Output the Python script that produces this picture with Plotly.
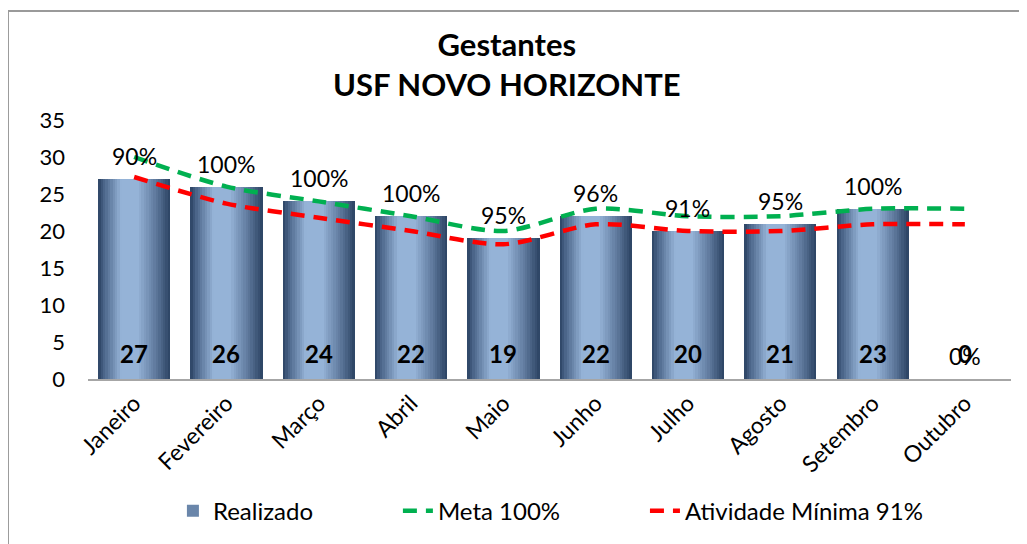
import plotly.graph_objects as go

meses = ["Janeiro", "Fevereiro", "Março", "Abril", "Maio", "Junho", "Julho", "Agosto", "Setembro", "Outubro"]
realizado = [27, 26, 24, 22, 19, 22, 20, 21, 23, 0]
meta = [30, 26, 24, 22, 20, 23, 22, 22, 23, 23]
minima = [27.3, 23.7, 21.8, 20.0, 18.2, 20.9, 20.0, 20.0, 20.9, 20.9]
percentuais = ["90%", "100%", "100%", "100%", "95%", "96%", "91%", "95%", "100%", "0%"]
series_nomes = ["Realizado", "Meta 100%", "Atividade Mínima 91%"]

FONT = "Lato"
DARK = (0x2B, 0x42, 0x62)
LIGHT = (0x95, 0xB3, 0xD7)
STOPS = [(0.0, DARK), (0.08, (0x4A, 0x64, 0x88)), (0.32, LIGHT), (0.55, LIGHT), (0.8, (0x5E, 0x78, 0x9C)), (1.0, DARK)]
PAD = "\u00a0" * 13  # trailing spacing between legend entries


def grad(t):
    for (a, ca), (b, cb) in zip(STOPS, STOPS[1:]):
        if a <= t <= b:
            f = (t - a) / (b - a) if b > a else 0
            c = [round(ca[i] + (cb[i] - ca[i]) * f) for i in range(3)]
            return "rgb(%d,%d,%d)" % tuple(c)
    return "rgb(%d,%d,%d)" % DARK


W = 0.78
N = 30
fig = go.Figure()
for i in range(N):
    t = (i + 0.5) / N
    fig.add_trace(go.Bar(
        x=meses, y=realizado, name=series_nomes[0] + PAD,
        width=W / N * 1.08, offset=-W / 2 + i * W / N,
        marker=dict(color=grad(t), line=dict(width=0)),
        showlegend=(i == 5), legendrank=1, hoverinfo="skip",
    ))

fig.add_trace(go.Scatter(
    x=meses, y=meta, name=series_nomes[1] + PAD, mode="lines",
    line=dict(color="#00B050", width=4.5, dash="14px,9px", shape="spline", smoothing=0.8),
    legendrank=2,
))
fig.add_trace(go.Scatter(
    x=meses, y=minima, name=series_nomes[2], mode="lines",
    line=dict(color="#FF0000", width=4.5, dash="14px,9px", shape="spline", smoothing=0.8),
    legendrank=3,
))

anns = []
for m, v, p in zip(meses, realizado, percentuais):
    anns.append(dict(x=m, y=0, text="<b>%d</b>" % v, showarrow=False, yshift=26,
                     font=dict(family=FONT, size=24, color="black")))
    anns.append(dict(x=m, y=v, text=p, showarrow=False, yshift=23,
                     font=dict(family=FONT, size=23, color="black")))
anns.append(dict(x=0.454, y=1.215, xref="paper", yref="paper",
                 text="<b>Gestantes</b><br><b>USF NOVO HORIZONTE</b>",
                 showarrow=False, xanchor="center", yanchor="middle",
                 font=dict(family=FONT, size=31, color="black")))

# page body has an 8px margin; figure is sized/offset to compensate
fig.update_layout(
    width=1019, height=536,
    margin=dict(l=80, r=16, t=112, b=165, autoexpand=False),
    paper_bgcolor="white", plot_bgcolor="white",
    barmode="overlay", bargap=0,
    font=dict(family=FONT, size=22, color="black"),
    annotations=anns,
    showlegend=True,
    legend=dict(orientation="h", x=0.092, xanchor="left", y=-0.51, yanchor="middle",
                font=dict(family=FONT, size=24, color="black"), traceorder="normal"),
    shapes=[dict(type="rect", xref="paper", yref="paper", x0=-0.0867, x1=1.2, y0=-1.0, y1=1.4208,
                 line=dict(color="#9A9A9A", width=2), fillcolor="rgba(0,0,0,0)", layer="below")],
    xaxis=dict(tickangle=-45, showline=True, linecolor="#A6A6A6", linewidth=1.5, automargin=False,
               ticks="", showgrid=False, tickfont=dict(family=FONT, size=23)),
    yaxis=dict(range=[0, 35], dtick=5, showgrid=False, showline=False, zeroline=False, automargin=False,
               ticks="", ticklabelstandoff=22, tickfont=dict(family=FONT, size=22)),
)

fig.write_html("out.html")
